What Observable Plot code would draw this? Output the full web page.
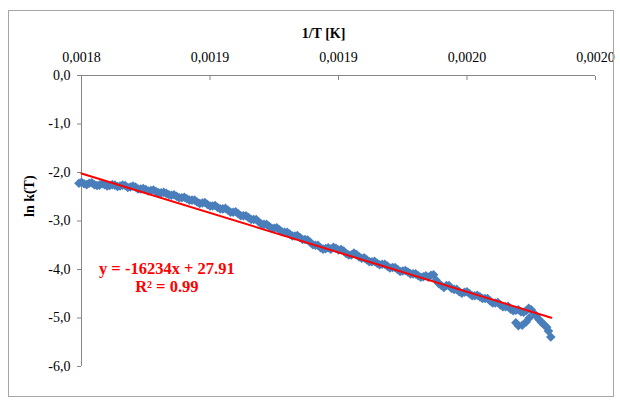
<!DOCTYPE html>
<html><head><meta charset="utf-8">
<script src="https://cdn.jsdelivr.net/npm/d3@7"></script>
<script src="https://cdn.jsdelivr.net/npm/@observablehq/plot@0.6"></script>
<style>
html,body{margin:0;padding:0;background:#fff;}
#wrap{position:relative;width:620px;height:402px;}
#wrap svg{position:absolute;left:0;top:0;}
#border{position:absolute;left:8px;top:10px;width:606px;height:387px;border:1px solid #a6a6a6;box-sizing:border-box;pointer-events:none;}
</style></head><body><div id="wrap"><div id="border"></div></div>
<script>
// Data (1/T, ln k)
const invT = [
0.001799,0.001801,0.001803,0.001805,0.001807,0.001809,0.001811,0.001813,0.001815,0.001817,
0.001819,0.001821,0.001823,0.001825,0.001827,0.001829,0.001831,0.001833,0.001835,0.001837,
0.001839,0.001841,0.001843,0.001845,0.001847,0.001849,0.001851,0.001853,0.001855,0.001857,
0.001859,0.001861,0.001863,0.001865,0.001867,0.001869,0.001871,0.001873,0.001875,0.001877,
0.001879,0.001881,0.001883,0.001885,0.001887,0.001889,0.001891,0.001893,0.001895,0.001897,
0.001899,0.001901,0.001903,0.001905,0.001907,0.001909,0.001911,0.001913,0.001915,0.001917,
0.001919,0.001921,0.001923,0.001925,0.001927,0.001929,0.001931,0.001933,0.001935,0.001937,
0.001939,0.001941,0.001943,0.001945,0.001947,0.001949,0.001951,0.001953,0.001955,0.001957,
0.001959,0.001961,0.001963,0.001965,0.001967,0.001969,0.001971,0.001973,0.001975,0.001977,
0.001979,0.001981,0.0019817,0.0019826,
0.001969,0.001970,0.0019715,0.001973,0.0019742,
0.001800,0.001802,0.001804,0.001806,0.001808,0.001810,0.001812,0.001814,0.001816,0.001818,
0.001820,0.001822,0.001824,0.001826,0.001828,0.001830,0.001832,0.001834,0.001836,0.001838,
0.001840,0.001842,0.001844,0.001846,0.001848,0.001850,0.001852,0.001854,0.001856,0.001858,
0.001860,0.001862,0.001864,0.001866,0.001868,0.001870,0.001872,0.001874,0.001876,0.001878,
0.001880,0.001882,0.001884,0.001886,0.001888,0.001890,0.001892,0.001894,0.001896,0.001898,
0.001900,0.001902,0.001904,0.001906,0.001908,0.001910,0.001912,0.001914,0.001916,0.001918,
0.001920,0.001922,0.001924,0.001926,0.001928,0.001930,0.001932,0.001934,0.001936,0.001938,
0.001940,0.001942,0.001944,0.001946,0.001948,0.001950,0.001952,0.001954,0.001956,0.001958,
0.001960,0.001962,0.001964,0.001966,0.001968,0.001970,0.001972,0.001974,0.001976,0.001978,
0.001980];
const lnk = [
-2.22,-2.23,-2.22,-2.25,-2.26,-2.25,-2.27,-2.26,-2.28,-2.27,
-2.30,-2.30,-2.34,-2.35,-2.37,-2.39,-2.42,-2.43,-2.47,-2.49,
-2.52,-2.54,-2.57,-2.61,-2.63,-2.66,-2.69,-2.72,-2.75,-2.78,
-2.82,-2.85,-2.89,-2.93,-2.97,-3.02,-3.07,-3.11,-3.15,-3.18,
-3.23,-3.27,-3.31,-3.34,-3.38,-3.44,-3.50,-3.55,-3.57,-3.58,
-3.56,-3.59,-3.67,-3.70,-3.69,-3.77,-3.80,-3.84,-3.87,-3.89,
-3.93,-3.96,-4.00,-4.03,-4.05,-4.09,-4.13,-4.15,-4.16,-4.11,
-4.29,-4.37,-4.33,-4.41,-4.46,-4.47,-4.50,-4.54,-4.56,-4.60,
-4.65,-4.69,-4.73,-4.77,-4.82,-4.84,-4.87,-4.85,-4.83,-4.96,
-5.09,-5.19,-5.27,-5.39,
-5.10,-5.16,-5.15,-5.08,-5.00,
-2.20,-2.25,-2.21,-2.27,-2.23,-2.28,-2.25,-2.29,-2.26,-2.31,
-2.28,-2.34,-2.33,-2.38,-2.36,-2.42,-2.41,-2.46,-2.46,-2.52,
-2.51,-2.57,-2.57,-2.64,-2.62,-2.69,-2.68,-2.75,-2.74,-2.82,
-2.81,-2.89,-2.89,-2.97,-2.97,-3.06,-3.07,-3.15,-3.14,-3.22,
-3.23,-3.31,-3.30,-3.38,-3.39,-3.49,-3.50,-3.58,-3.55,-3.54,
-3.60,-3.62,-3.70,-3.66,-3.74,-3.76,-3.84,-3.83,-3.90,-3.89,
-3.97,-3.96,-4.04,-4.02,-4.09,-4.09,-4.16,-4.13,-4.12,-4.22,
-4.33,-4.33,-4.39,-4.41,-4.49,-4.46,-4.54,-4.53,-4.60,-4.60,
-4.69,-4.68,-4.77,-4.76,-4.85,-4.83,-4.88,-4.80,-4.90,-5.03,
-5.14];

const fitX = [0.0018, 0.0019828];
const fitY = [-2.02, -4.995];

const xDomain = [0.0018, 0.0020];
const yDomain = [-6, 0];
const xTicks = [0.0018, 0.00185, 0.0019, 0.00195, 0.0020];
const xTickLabels = ["0,0018", "0,0019", "0,0019", "0,0020", "0,0020"];
const yTicks = [0, -1, -2, -3, -4, -5, -6];
const yTickLabels = ["0,0", "-1,0", "-2,0", "-3,0", "-4,0", "-5,0", "-6,0"];

const xTitle = "1/T [K]";
const yTitle = "ln k(T)";
const eqText = "y = -16234x + 27.91\nR² = 0.99";
const eqX = 0.0018332, eqY = -4.15;

const points = invT.map((x, i) => ({x, y: lnk[i]}));
const fit = fitX.map((x, i) => ({x, y: fitY[i]}));

const chart = Plot.plot({
  width: 620, height: 402,
  marginLeft: 81, marginRight: 25, marginTop: 75, marginBottom: 36,
  style: {fontFamily: "'Liberation Serif', 'Times New Roman', serif", fontSize: "14px", color: "#000", background: "transparent", overflow: "visible"},
  x: {domain: xDomain, axis: null},
  y: {domain: yDomain, axis: null},
  marks: [
    Plot.ruleX([xDomain[0]], {stroke: "#868686"}),
    Plot.ruleY([yDomain[1]], {stroke: "#868686"}),
    Plot.axisY(yTicks, {anchor: "left", label: null, tickSize: 4, tickPadding: 7, stroke: "#868686", fontSize: 14,
      tickFormat: d => yTickLabels[yTicks.indexOf(d)]}),
    Plot.axisX(xTicks, {anchor: "top", label: null, tickSize: -4, tickPadding: 18, stroke: "#868686", fontSize: 14,
      tickFormat: d => xTickLabels[xTicks.indexOf(d)]}),
    Plot.text([xTitle], {frameAnchor: "top", dx: -15, dy: -47, fontWeight: "bold", fontSize: 14}),
    Plot.text([yTitle], {frameAnchor: "left", dx: -52, dy: -4, rotate: -90, fontWeight: "bold", fontSize: 14}),
    Plot.dot(points, {x: "x", y: "y", symbol: "diamond2", r: 4.3, fill: "#4a7ebb"}),
    Plot.line(fit, {x: "x", y: "y", stroke: "#ff0000", strokeWidth: 2}),
    Plot.text([{x: eqX, y: eqY, t: eqText}], {x: "x", y: "y", text: "t", fill: "#ff0000", fontWeight: "bold", fontSize: 16.5, lineHeight: 1.1})
  ]
});
document.getElementById("wrap").prepend(chart);
</script>
</body></html>
